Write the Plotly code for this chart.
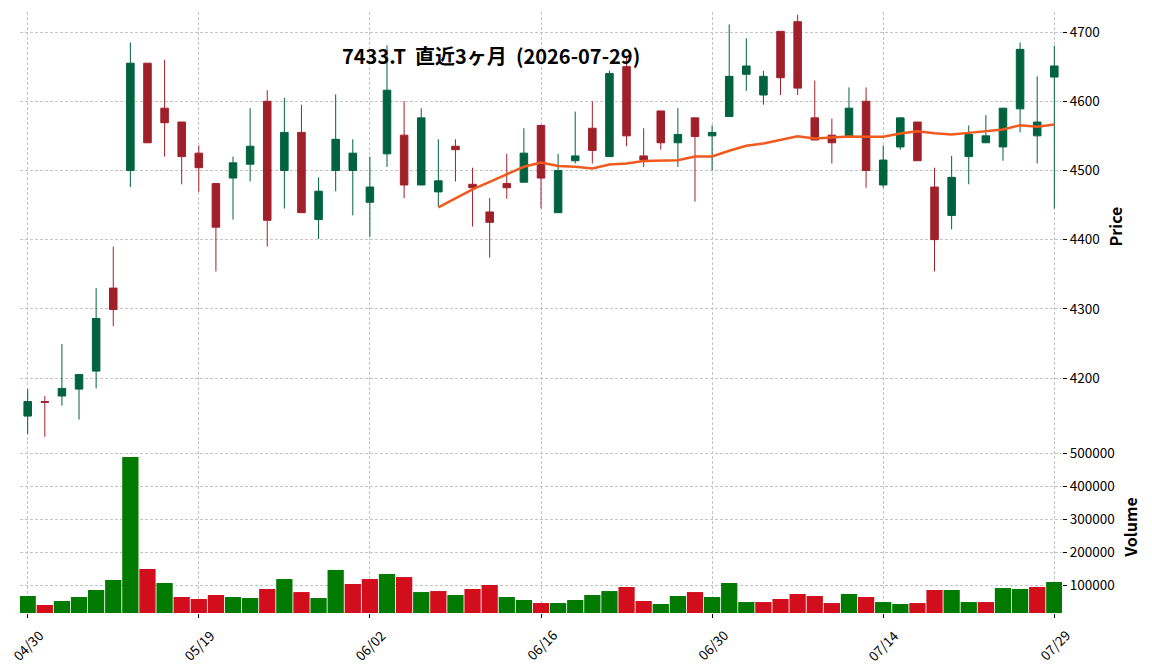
import plotly.graph_objects as go

# ---------------- data ----------------
dates = [
    "2026-04-30", "2026-05-01", "2026-05-07", "2026-05-08", "2026-05-11", "2026-05-12",
    "2026-05-13", "2026-05-14", "2026-05-15", "2026-05-18", "2026-05-19", "2026-05-20",
    "2026-05-21", "2026-05-22", "2026-05-25", "2026-05-26", "2026-05-27", "2026-05-28",
    "2026-05-29", "2026-06-01", "2026-06-02", "2026-06-03", "2026-06-04", "2026-06-05",
    "2026-06-08", "2026-06-09", "2026-06-10", "2026-06-11", "2026-06-12", "2026-06-15",
    "2026-06-16", "2026-06-17", "2026-06-18", "2026-06-19", "2026-06-22", "2026-06-23",
    "2026-06-24", "2026-06-25", "2026-06-26", "2026-06-29", "2026-06-30", "2026-07-01",
    "2026-07-02", "2026-07-03", "2026-07-06", "2026-07-07", "2026-07-08", "2026-07-09",
    "2026-07-10", "2026-07-13", "2026-07-14", "2026-07-15", "2026-07-16", "2026-07-17",
    "2026-07-21", "2026-07-22", "2026-07-23", "2026-07-24", "2026-07-27", "2026-07-28",
    "2026-07-29",
]

open_ = [4145, 4166, 4174, 4184, 4210, 4330, 4500, 4655, 4590, 4570,
         4525, 4481, 4489, 4509, 4600, 4500, 4555, 4429, 4500, 4500,
         4454, 4524, 4551, 4479, 4469, 4535, 4480, 4440, 4481, 4483,
         4565, 4439, 4514, 4561, 4520, 4650, 4521, 4586, 4540, 4576,
         4550, 4578, 4639, 4609, 4701, 4715, 4576, 4551, 4550, 4600,
         4479, 4534, 4570, 4476, 4435, 4520, 4540, 4534, 4589, 4550,
         4635]
high = [4184, 4174, 4249, 4205, 4330, 4390, 4685, 4655, 4660, 4570,
        4536, 4481, 4520, 4590, 4616, 4605, 4595, 4490, 4610, 4545,
        4520, 4681, 4600, 4590, 4545, 4545, 4504, 4460, 4524, 4561,
        4566, 4524, 4585, 4600, 4644, 4665, 4561, 4586, 4590, 4576,
        4565, 4711, 4691, 4644, 4701, 4725, 4630, 4575, 4620, 4620,
        4536, 4576, 4570, 4504, 4521, 4565, 4580, 4590, 4685, 4636,
        4680]
low = [4119, 4115, 4160, 4140, 4185, 4275, 4476, 4540, 4520, 4480,
       4469, 4354, 4429, 4484, 4390, 4445, 4439, 4401, 4470, 4435,
       4404, 4505, 4460, 4479, 4448, 4484, 4419, 4374, 4459, 4483,
       4445, 4439, 4510, 4510, 4520, 4535, 4505, 4530, 4505, 4455,
       4500, 4578, 4615, 4595, 4609, 4609, 4544, 4510, 4549, 4475,
       4475, 4530, 4514, 4354, 4415, 4480, 4540, 4514, 4555, 4510,
       4445]
close = [4166, 4165, 4185, 4205, 4286, 4299, 4655, 4540, 4569, 4520,
         4504, 4418, 4511, 4535, 4428, 4555, 4439, 4470, 4545, 4525,
         4476, 4616, 4479, 4576, 4485, 4530, 4475, 4425, 4475, 4525,
         4489, 4500, 4521, 4529, 4640, 4550, 4515, 4540, 4552, 4549,
         4555, 4636, 4651, 4636, 4634, 4619, 4544, 4540, 4590, 4500,
         4515, 4576, 4514, 4400, 4490, 4552, 4550, 4590, 4675, 4570,
         4651]
volume = [68800, 41600, 53700, 65800, 86900, 117100, 488900, 150400, 108100, 65800,
          59700, 71800, 65800, 62700, 89900, 120100, 80800, 62700, 147400, 105000,
          120100, 135200, 126100, 80800, 83800, 71800, 89900, 102000, 65800, 56700,
          47600, 47600, 56700, 71800, 83800, 96000, 53700, 44600, 68800, 80800,
          65800, 108100, 50600, 50600, 59700, 74800, 68800, 47600, 74800, 65800,
          50600, 44600, 47600, 86900, 86900, 50600, 50600, 92900, 89900, 96000,
          111100]
# 25-day moving average (first value on 2026-06-08)
ma25_dates = dates[24:]
ma25 = [4446.7, 4459.6, 4472.6, 4483.6, 4494.7, 4505.3, 4511.6, 4506.3, 4505.3, 4503.0,
        4508.7, 4510.1, 4513.5, 4514.4, 4514.9, 4520.2, 4520.2, 4528.4, 4535.6, 4539.0,
        4543.8, 4549.5, 4546.2, 4548.1, 4549.0, 4548.7, 4548.6, 4553.4, 4556.7, 4553.9,
        4551.9, 4554.3, 4556.3, 4559.2, 4565.4, 4563.0, 4566.4]

tick_dates = ["2026-04-30", "2026-05-19", "2026-06-02", "2026-06-16",
              "2026-06-30", "2026-07-14", "2026-07-29"]
tick_labels = ["04/30", "05/19", "06/02", "06/16", "06/30", "07/14", "07/29"]
price_ticks = [4200, 4300, 4400, 4500, 4600, 4700]
volume_ticks = [100000, 200000, 300000, 400000, 500000]
title_text = "7433.T\u00a0\u00a0直近3ヶ月\u00a0\u00a0(2026-07-29)"

# ---------------- style ----------------
FONT = "Noto Sans CJK JP"
UP = "#006340"
DOWN = "#A0202A"
VUP = "#007A00"
VDOWN = "#D20E1C"
MA_COLOR = "#F05A1E"
GRID = "#c4c4c4"

# volume colour: close vs previous close
vcolors = [VUP] + [VUP if close[i] >= close[i - 1] else VDOWN for i in range(1, len(close))]

fig = go.Figure()
fig.add_trace(go.Candlestick(
    x=dates, open=open_, high=high, low=low, close=close,
    increasing=dict(line=dict(color=UP, width=1), fillcolor=UP),
    decreasing=dict(line=dict(color=DOWN, width=1), fillcolor=DOWN),
    whiskerwidth=0, xaxis="x", yaxis="y", showlegend=False,
    hoverinfo="x+y",
))
fig.add_trace(go.Scatter(
    x=ma25_dates, y=ma25, mode="lines",
    line=dict(color=MA_COLOR, width=2.5), xaxis="x", yaxis="y", showlegend=False,
))
fig.add_trace(go.Bar(
    x=dates, y=volume, marker=dict(color=vcolors, line=dict(width=0)),
    xaxis="x", yaxis="y2", showlegend=False,
))

grid_common = dict(showgrid=True, gridcolor=GRID, gridwidth=0.8, griddash="3px,2px",
                   zeroline=False, showline=False, automargin=False)
tickfont = dict(family=FONT, size=13.5, color="black")
VOL_FRAC = 0.2862

annotations = [dict(
    text=title_text, xref="paper", yref="paper", x=0.452, y=0.928,
    xanchor="center", yanchor="middle", showarrow=False,
    font=dict(family=FONT, size=20, color="black", weight="bold"),
)]
# rotated date labels centred under their ticks
for d, lab in zip(tick_dates, tick_labels):
    annotations.append(dict(
        text=lab, xref="x", yref="paper", x=d, y=-0.016,
        xanchor="center", yanchor="top", textangle=-45, showarrow=False,
        font=dict(family=FONT, size=13.5, color="black"),
    ))

fig.update_layout(
    width=1152, height=670,
    margin=dict(l=20, r=90, t=12, b=57),
    paper_bgcolor="white", plot_bgcolor="white",
    font=dict(family=FONT, color="black"),
    boxgap=0.37, bargap=0.05,
    xaxis=dict(
        type="category", anchor="y2", range=[-0.45, len(dates) - 1 + 0.45],
        tickmode="array", tickvals=tick_dates, ticktext=tick_labels,
        showticklabels=False, ticks="outside", ticklen=4, tickcolor="black", tickwidth=1,
        rangeslider=dict(visible=False), **grid_common,
    ),
    yaxis=dict(
        domain=[VOL_FRAC, 1], anchor="x", side="right", range=[4109, 4729],
        tickmode="array", tickvals=price_ticks, ticks="outside", ticklen=4,
        tickcolor="black", tickwidth=1, tickfont=tickfont,
        title=dict(text="Price", font=dict(family=FONT, size=16, weight="bold"), standoff=12),
        **grid_common,
    ),
    yaxis2=dict(
        domain=[0, VOL_FRAC], anchor="x", side="right", range=[17500, 537000],
        tickmode="array", tickvals=volume_ticks,
        ticktext=[str(v) for v in volume_ticks], ticks="outside", ticklen=4,
        tickcolor="black", tickwidth=1, tickfont=tickfont,
        title=dict(text="Volume", font=dict(family=FONT, size=16, weight="bold"), standoff=12),
        **grid_common,
    ),
    annotations=annotations,
)

fig.write_html("out.html")
